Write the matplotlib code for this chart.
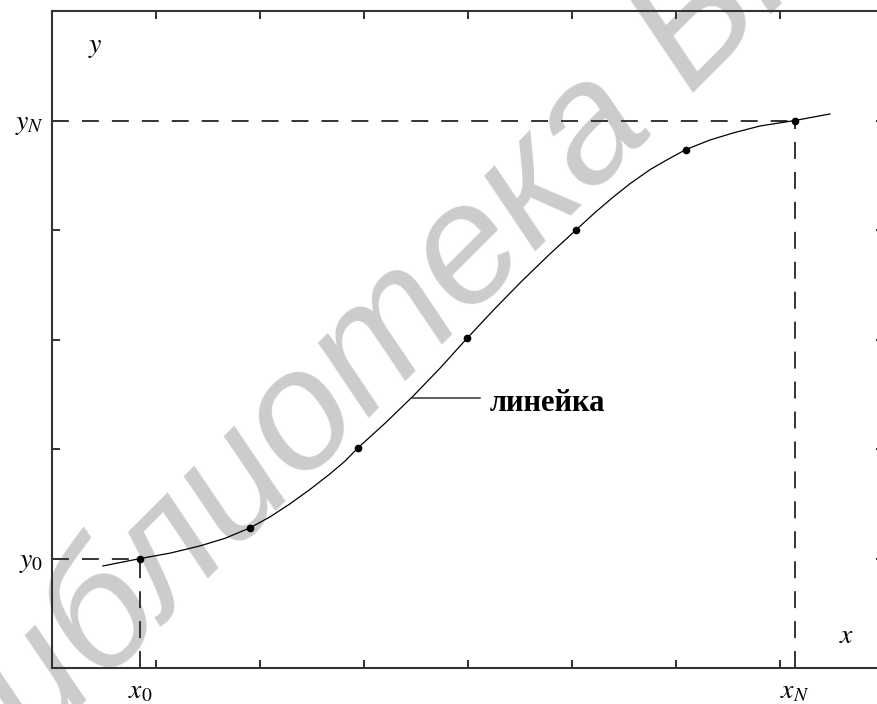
import numpy as np
import matplotlib.pyplot as plt

plt.rcParams['mathtext.fontset'] = 'stix'
plt.rcParams['font.family'] = ['Liberation Serif', 'DejaVu Serif']

# marked nodes on the ruler curve
pts_x = [0.85, 1.904, 2.942, 3.99, 5.038, 6.096, 7.144]
pts_y = [1.0, 1.28, 2.01, 3.01, 4.0, 4.735, 5.0]

# traced ruler (лекало) line
curve_x = [0.49, 0.85, 1.135, 1.423, 1.663, 1.904, 2.096, 2.288, 2.481, 2.673,
           2.817, 2.942, 3.202, 3.471, 3.731, 3.99, 4.252, 4.514, 4.776, 5.038,
           5.221, 5.385, 5.558, 5.75, 5.923, 6.096, 6.327, 6.548, 6.808, 7.144,
           7.481]
curve_y = [0.932, 1.0, 1.049, 1.115, 1.184, 1.28, 1.38, 1.499, 1.631, 1.773,
           1.889, 2.01, 2.235, 2.482, 2.738, 3.01, 3.276, 3.53, 3.771, 4.0,
           4.159, 4.292, 4.423, 4.551, 4.646, 4.735, 4.822, 4.886, 4.95, 5.0,
           5.06]

x_ticks = [1, 2, 3, 4, 5, 6, 7]
y_ticks = [1, 2, 3, 4, 5]
y_labels = ['$y_0$', '', '', '', '$y_N$']
x_end_labels = ['$x_0$', '$x_N$']

dark = '#333333'

fig = plt.figure(figsize=(8.78, 7.04), dpi=100)
ax = fig.add_axes([52/878, 36/704, 832/878, 657/704])
ax.set_facecolor('none')

fig.text(0.552, 0.66, 'Библиотека БГУИР', rotation=45, fontsize=122,
         color='#cccccc', style='italic', family='Liberation Sans',
         ha='center', va='center', rotation_mode='anchor', zorder=-1)

x0, xN = pts_x[0], pts_x[-1]
y0, yN = pts_y[0], pts_y[-1]
dash = (0, (8.7, 6.7))
ax.plot([0, x0], [y0, y0], color=dark, lw=1.4, linestyle=dash)
ax.plot([0, xN], [yN, yN], color=dark, lw=1.4, linestyle=dash)
ax.plot([x0, x0], [0, y0], color=dark, lw=1.4, linestyle=dash)
ax.plot([xN, xN], [0, yN], color=dark, lw=1.4, linestyle=dash)

ax.plot(curve_x, curve_y, color='black', lw=0.9)
ax.plot(pts_x, pts_y, 'o', color='black', ms=4.5)

# callout for the curve
ax.plot([3.46, 4.115], [2.47, 2.47], color=dark, lw=1.1)
ax.text(4.21, 2.35, 'линейка', fontsize=22, fontweight='bold',
        ha='left', va='baseline')

ax.text(0.052, 0.945, '$y$', transform=ax.transAxes, fontsize=20,
        ha='center', va='center')
ax.text(0.955, 0.0487, '$x$', transform=ax.transAxes, fontsize=20,
        ha='center', va='center')

ax.set_xlim(0, 8)
ax.set_ylim(0, 6)
ax.set_xticks(x_ticks)
ax.set_xticklabels([])
ax.set_xticks([x0, xN], minor=True)
ax.set_xticklabels(x_end_labels, minor=True, fontsize=20)
ax.set_yticks(y_ticks)
ax.set_yticklabels(y_labels, fontsize=20)

ax.tick_params(which='major', direction='in', length=6, width=1.4,
               color=dark, top=True, right=True, pad=6)
ax.tick_params(axis='x', which='minor', length=0, pad=8)
for s in ax.spines.values():
    s.set_color(dark)
    s.set_linewidth(1.5)

fig.savefig('out.png', dpi=100)
